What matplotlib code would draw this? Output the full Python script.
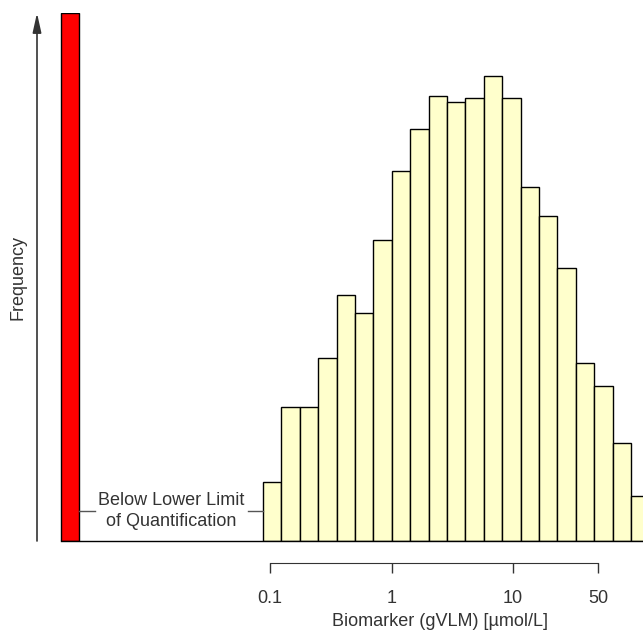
import numpy as np
from matplotlib import pyplot as plt

# Histogram of log10 biomarker values (bin width in decades)
bin_start = -1.058
bin_width = 0.1515
counts = [59, 134, 134, 183, 246, 228, 301, 370, 412, 445, 439,
          443, 465, 443, 354, 325, 273, 178, 155, 98, 45]
# Samples below lower limit of quantification, drawn 11 bins to the left
blq_count = 528
blq_offset = 11

tick_values = [0.1, 1, 10, 50]
tick_labels = ["0.1", "1", "10", "50"]

plt.rcParams['font.family'] = ['Liberation Sans', 'DejaVu Sans']
fsize = 13
tcolor = "#333333"

fig = plt.figure(figsize=(6.43, 6.33), dpi=100)
ax = fig.add_axes([37/643, 92/633, 606/643, 528/633])

# Bars on log scale
edges = bin_start + bin_width * np.arange(len(counts) + 1)
lefts = 10 ** edges[:-1]
widths = 10 ** edges[1:] - lefts
ax.bar(lefts, counts, width=widths, align="edge", color="#FFFFCC",
       edgecolor="black", linewidth=1)

blq_left = bin_start - blq_offset * bin_width
ax.bar(10 ** blq_left, blq_count, width=10 ** (blq_left + bin_width) - 10 ** blq_left,
       align="edge", color="#FF0000", edgecolor="black", linewidth=1)

ax.set_xscale("log")
ax.set_xlim(10 ** -2.918, 10 ** 2.07)
ax.set_ylim(0, blq_count)

# Baseline
ax.plot([10 ** blq_left, 10 ** 2.07], [0, 0], color="black", linewidth=1, clip_on=False)

# Annotation between BLQ bar and histogram
gap_lo = blq_left + bin_width
gap_hi = bin_start
mid = (gap_lo + gap_hi) / 2
ax.text(10 ** mid, 30, "Below Lower Limit\nof Quantification", ha="center", va="center",
        fontsize=fsize, color=tcolor, linespacing=1.3)
ax.plot([10 ** gap_lo, 10 ** (gap_lo + 0.13)], [30, 30], color="#555555", linewidth=1)
ax.plot([10 ** (gap_hi - 0.125), 10 ** gap_hi], [30, 30], color="#555555", linewidth=1)

# Axes styling (R style)
for s in ["top", "right", "left"]:
    ax.spines[s].set_visible(False)
ax.spines["bottom"].set_position(("outward", 22 * 0.72))
ax.spines["bottom"].set_bounds(0.1, 50)
ax.spines["bottom"].set_color("#333333")
ax.set_xticks(tick_values)
ax.set_xticklabels(tick_labels)
ax.xaxis.set_minor_locator(plt.NullLocator())
ax.tick_params(axis="x", direction="out", length=7, width=1, color="#333333",
               pad=12.5, labelsize=fsize, labelcolor=tcolor)
ax.set_yticks([])

# Y arrow
ax.annotate("", xy=(0, 1), xytext=(0, 0), xycoords="axes fraction",
            arrowprops=dict(arrowstyle="-|>,head_width=0.2,head_length=0.9",
                            color="#333333", lw=1.2,
                            mutation_scale=13, shrinkA=0, shrinkB=0))

fig.text(18/643, 1 - 278/633, "Frequency", rotation=90, ha="center", va="center",
         fontsize=fsize, color=tcolor)
fig.text(440/643, 1 - 621/633, "Biomarker (gVLM) [µmol/L]", ha="center", va="center",
         fontsize=fsize, color=tcolor)

fig.savefig("out.png", dpi=100)
